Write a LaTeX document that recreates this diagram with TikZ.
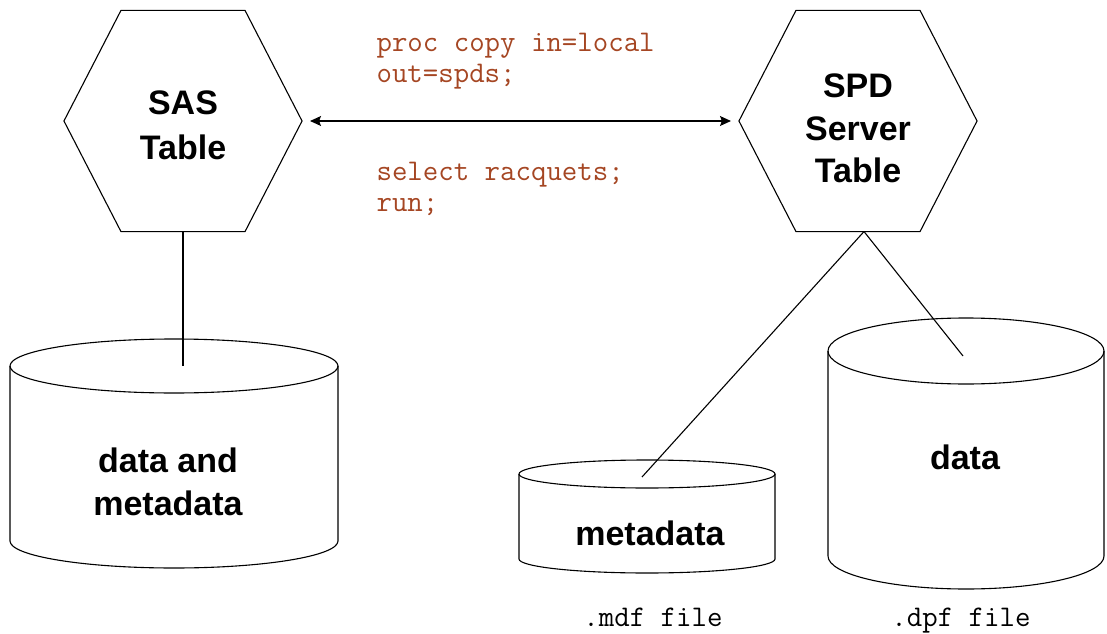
\documentclass[tikz,border=0pt]{standalone}
\usepackage{fontspec}
\newfontfamily\labelfont{Liberation Sans}
\usepackage{tikz}
\usetikzlibrary{positioning}
\usetikzlibrary{arrows.meta}
\usepackage{xcolor}
\definecolor{codered}{RGB}{165,70,35}

\tikzset{
  tbl/.style={minimum width=237pt, minimum height=220pt, inner sep=0pt},
  lbl/.style={align=center, inner sep=0pt, font=\labelfont\bfseries\fontsize{34}{42.5}\selectfont},
  code/.style={align=left, anchor=west, inner sep=0pt, text=codered,
    font=\ttfamily\fontsize{30}{31}\selectfont},
  file/.style={inner sep=0pt, anchor=base, font=\ttfamily\fontsize{30}{31}\selectfont},
}

\begin{document}
\begin{tikzpicture}[x=1pt,y=1pt,line width=1.1pt,node distance=675pt,on grid]
   \useasboundingbox (0,0) rectangle (1107,633);
   \node[tbl] (sas) at (183,512) {};
   \node[tbl] (spd) [right=of sas] {};
   \foreach \n in {sas,spd}
     \draw (\n.west) -- ([xshift=57pt]\n.north west) -- ([xshift=-57pt]\n.north east) -- (\n.east)
       -- ([xshift=-57pt]\n.south east) -- ([xshift=57pt]\n.south west) -- cycle;
   \node[lbl, font=\labelfont\bfseries\fontsize{34}{45}\selectfont] (sasname) [below=4.5pt of sas] {SAS\\Table};
   \node[lbl] (spdname) [below=7.5pt of spd] {SPD\\Server\\Table};

   \foreach \cx/\top/\bot/\rx/\ry in {174/267/92/164/27, 647/159/74/128/14, 966/282/77/138/33} {
     \draw (\cx,\top) ellipse [x radius=\rx, y radius=\ry];
     \draw (\cx-\rx,\top) -- (\cx-\rx,\bot) arc [start angle=180, end angle=360, x radius=\rx, y radius=\ry]
       -- (\cx+\rx,\top);
   }
   \node[lbl] (both) at (168,151) {data and\\metadata};
   \node[lbl] (meta) at (650,100) {metadata};
   \node[lbl] (data) at (965,176) {data};
   \node[file] (mdf) at (653,7) {.mdf file};
   \node[file] (dpf) at (961,7) {.dpf file};

   \node[code] (copy) at (376,572) {proc copy in=local\\out=spds;};
   \node[code] (sel) at (376,444) {select racquets;\\run;};

   \coordinate (bothtop) at (183,267);
   \coordinate (metatop) at (642,156);
   \coordinate (datatop) at (963,277);

   \draw[{Stealth[length=11pt,width=10pt,inset=2pt]}-{Stealth[length=11pt,width=10pt,inset=2pt]},
     shorten <=8pt, shorten >=8pt] (sas.east) -- (spd.west);
   \draw (sas.south) -- (bothtop);
   \draw ([xshift=6pt]spd.south) -- (metatop);
   \draw ([xshift=6pt]spd.south) -- (datatop);
\end{tikzpicture}
\end{document}
